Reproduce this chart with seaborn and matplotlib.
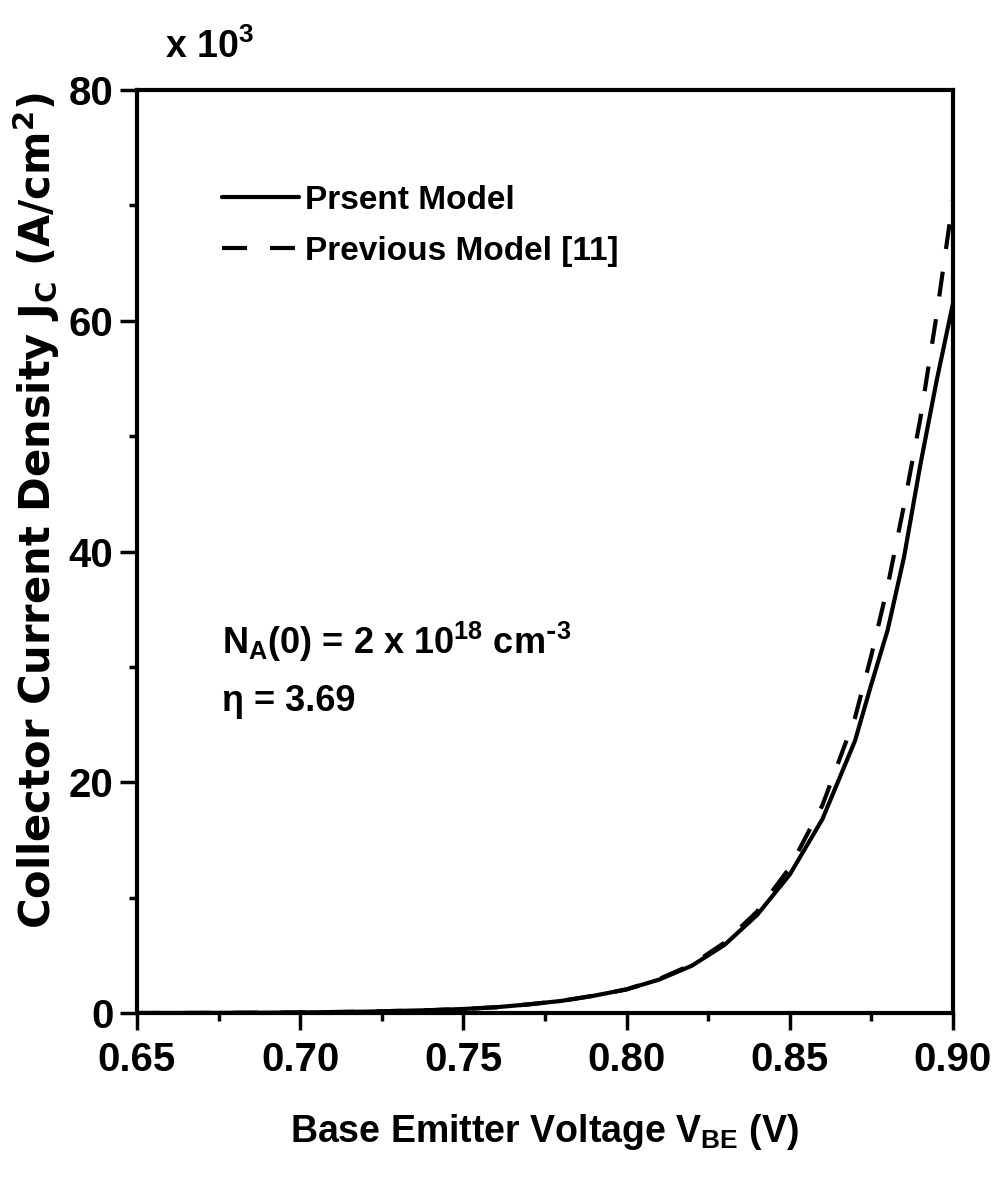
import numpy as np
import pandas as pd
import matplotlib
matplotlib.use("Agg")
import matplotlib.pyplot as plt
import seaborn as sns
from matplotlib import font_manager
from matplotlib.ticker import MultipleLocator

# --- data (J_C in units of 10^3 A/cm^2) ---
vbe = [0.65, 0.67, 0.69, 0.70, 0.72, 0.74, 0.75, 0.76, 0.77, 0.78, 0.79,
       0.80, 0.81, 0.82, 0.83, 0.84, 0.85, 0.86, 0.87, 0.875, 0.88,
       0.885, 0.89, 0.895, 0.90]
jc_present = [0.0, 0.01, 0.03, 0.05, 0.12, 0.25, 0.35, 0.5, 0.75, 1.05, 1.5,
              2.05, 2.9, 4.1, 5.9, 8.5, 12.0, 16.8, 23.6, 28.5, 33.2,
              39.5, 47.5, 54.8, 61.5]
jc_previous = [0.0, 0.01, 0.03, 0.05, 0.12, 0.25, 0.35, 0.5, 0.75, 1.05, 1.5,
               2.05, 2.95, 4.2, 6.1, 8.8, 12.6, 18.0, 25.6, 31.0, 37.0,
               44.0, 51.5, 60.5, 70.5]
models = ["Prsent Model", "Previous Model [11]"]
xticks = [0.65, 0.70, 0.75, 0.80, 0.85, 0.90]
yticks = [0, 20, 40, 60, 80]

df = pd.concat([
    pd.DataFrame({"vbe": vbe, "jc": jc_present, "model": models[0]}),
    pd.DataFrame({"vbe": vbe, "jc": jc_previous, "model": models[1]}),
], ignore_index=True)

sns.set_style("ticks")
names = {f.name for f in font_manager.fontManager.ttflist}
narrow = "Liberation Sans Narrow" if "Liberation Sans Narrow" in names else "Liberation Sans"
plt.rcParams["font.family"] = [narrow, "DejaVu Sans"]
plt.rcParams["font.weight"] = "bold"
for k in ["text.color", "axes.labelcolor", "xtick.color", "ytick.color",
          "xtick.labelcolor", "ytick.labelcolor"]:
    plt.rcParams[k] = "black"

fig = plt.figure(figsize=(9.94, 11.89), dpi=100)
ax = fig.add_axes([0.1378, 0.1480, 0.8209, 0.7763])

sns.lineplot(data=df, x="vbe", y="jc", style="model", style_order=models,
             dashes={models[0]: "", models[1]: (6, 5.5)}, color="black",
             linewidth=3, legend=False, ax=ax, sort=False)

ax.set_xlim(0.65, 0.90)
ax.set_ylim(0, 80)
ax.set_xticks(xticks)
ax.set_xticklabels([f"{v:.2f}" for v in xticks])
ax.set_yticks(yticks)
ax.xaxis.set_minor_locator(MultipleLocator(0.025))
ax.yaxis.set_minor_locator(MultipleLocator(10))
ax.tick_params(which="major", direction="out", length=12, width=2.5,
               labelsize=29, pad=8, color="black")
ax.tick_params(axis="y", which="major", pad=5)
ax.tick_params(which="minor", direction="out", length=6, width=2.5, color="black")
for sp in ax.spines.values():
    sp.set_visible(True)
    sp.set_linewidth(3)
    sp.set_color("black")

ax.set_xlabel(r"Base Emitter Voltage V$_{\mathregular{BE}}$ (V)",
              fontsize=27, fontweight="bold", labelpad=24)
ax.set_ylabel(r"Collector Current Density J$_{\mathregular{C}}$ (A/cm$^{\mathregular{2}}$)",
              fontsize=30, fontweight="bold", family=["DejaVu Sans"])
ax.yaxis.set_label_coords(-0.092, 0.545)

leg = ax.legend(handles=ax.lines[:2], labels=models, loc="upper left",
                bbox_to_anchor=(0.104, 0.897), frameon=False, fontsize=24,
                handlelength=2.3, handletextpad=0.2, labelspacing=0.6,
                borderpad=0, borderaxespad=0)

ax.text(0.104, 0.402,
        r"N$_{\mathregular{A}}$(0) = 2 x 10$^{\mathregular{18}}$ cm$^{\mathregular{\text{-}3}}$",
        transform=ax.transAxes, fontsize=26, va="center", ha="left")
ax.text(0.104, 0.338, "η = 3.69", transform=ax.transAxes, fontsize=26,
        va="center", ha="left")

fig.text(165 / 994, 1 - 47 / 1189, r"x 10$^{\mathregular{3}}$", fontsize=27,
         va="center", ha="left")

fig.savefig("out.png", dpi=100)
